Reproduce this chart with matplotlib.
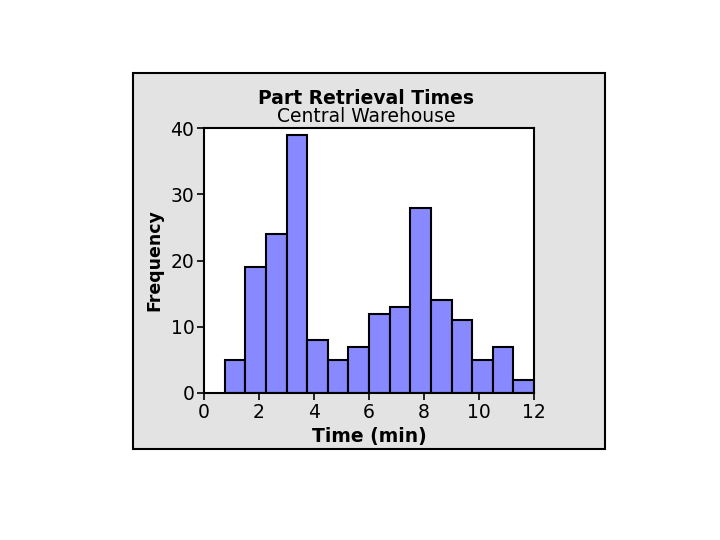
import matplotlib
matplotlib.use('Agg')
import matplotlib.pyplot as plt
from matplotlib.patches import Rectangle

# histogram of retrieval times, bins of 0.75 min starting at 0.75
bin_edges = [0.75 + 0.75 * i for i in range(16)]
counts = [5, 19, 24, 39, 8, 5, 7, 12, 13, 28, 14, 11, 5, 7, 2]
x_ticks = [0, 2, 4, 6, 8, 10, 12]
y_ticks = [0, 10, 20, 30, 40]

fig = plt.figure(figsize=(7.2, 5.4), dpi=100)
fig.patch.set_facecolor('white')

# gray panel behind the chart
panel = Rectangle((133 / 720, 1 - 449 / 540), 472 / 720, 376 / 540,
                  transform=fig.transFigure, facecolor='#e3e3e3',
                  edgecolor='black', linewidth=1.5, zorder=-10)
fig.patches.append(panel)

ax = fig.add_axes([204 / 720, 1 - 393 / 540, 330 / 720, 265 / 540])
ax.set_zorder(5)
ax.set_facecolor('white')

lefts = bin_edges[:-1]
widths = [bin_edges[i + 1] - bin_edges[i] for i in range(len(counts))]
ax.bar(lefts, counts, width=widths, align='edge', color='#8888ff',
       edgecolor='black', linewidth=1.5)

ax.set_xlim(0, 12)
ax.set_ylim(0, 40)
ax.set_xticks(x_ticks)
ax.set_yticks(y_ticks)
ax.tick_params(direction='out', length=5, width=1.2, labelsize=13.5, pad=2)
for s in ax.spines.values():
    s.set_linewidth(1.5)

ax.set_xlabel('Time (min)', fontsize=13.5, fontweight='bold', labelpad=4)
ax.set_ylabel('Frequency', fontsize=12.5, fontweight='bold', labelpad=5)

fig.text(366 / 720, 1 - 98 / 540, 'Part Retrieval Times', ha='center',
         va='center', fontsize=13.5, fontweight='bold')
fig.text(366 / 720, 1 - 117 / 540, 'Central Warehouse', ha='center',
         va='center', fontsize=13.5)

fig.savefig('out.png', dpi=100)
